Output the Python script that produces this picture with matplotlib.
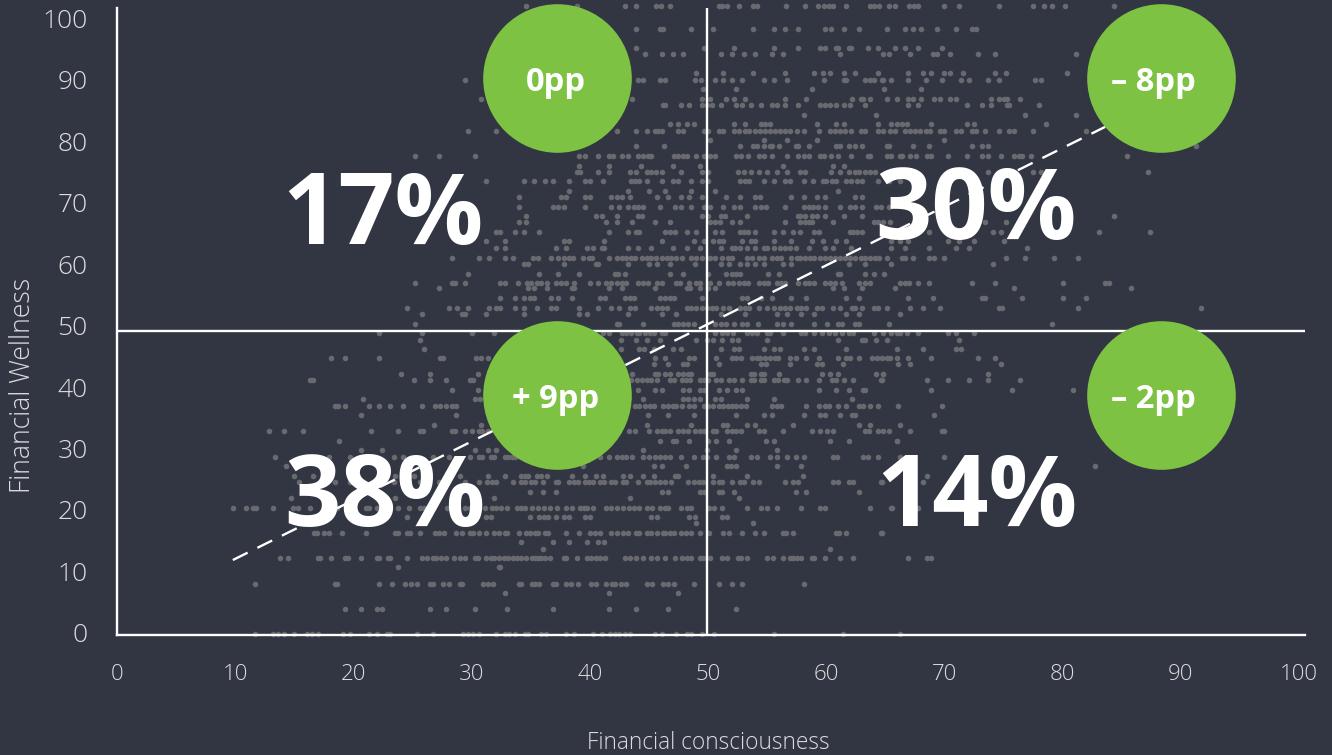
import matplotlib
matplotlib.use("Agg")
import matplotlib.pyplot as plt
from matplotlib.transforms import ScaledTranslation

BG = "#323642"
DOT = "#686a70"
GREEN = "#7dc242"
LIGHT = "#dcdde0"

# scatter, read row by row: wellness value -> consciousness values
row_y = [0, 4.1, 6.7, 8.2, 10.9, 12.3, 13.9, 15, 16.5, 18, 19.1, 20.6, 22.1, 23.2, 24.8, 25.8, 27.4, 28.9, 30, 31.5,
         33, 34.1, 35.6, 37.1, 38.2, 39.7, 41.3, 42.3, 43.9, 44.9, 46.4, 47.9, 49, 50.5, 52.1, 53.1, 54.7, 56.3, 57.2, 58.7,
         60.3, 61.3, 62.9, 64, 65.5, 67.1, 68.1, 69.6, 71.1, 72.2, 73.7, 75.2, 76.3, 77.8, 79.4, 80.5, 82, 83.1, 84.6, 86.1,
         87.2, 88.7, 90.2, 91.3, 94.4, 95.4, 98.5, 102.2]
row_x = [
    [11.7, 13.2, 13.6, 14.1, 15, 16.1, 16.5, 17, 19.1, 19.7, 21.3, 22, 22.8, 23.1, 25.4, 26.7, 29.3, 29.7, 30.1, 30.6, 32.1, 32.8, 33.2, 33.7, 34.5, 34.8, 35.9, 36.3, 38, 38.7, 40.3, 41, 41.7, 42.1, 42.5, 43, 43.4, 45.5, 46.1, 47.3, 48.2, 48.6, 49.5, 50.5, 55.6, 61.4, 66.2],
    [19.3, 20.6, 22, 22.4, 26.5, 27.8, 30.3, 33, 36.9, 41.6, 43.9, 46.6, 52.4],
    [32.8, 41.6, 47.5],
    [11.7, 18.4, 18.6, 22.2, 23.3, 24.4, 24.9, 25.4, 26.5, 26.7, 27.6, 28.1, 29, 29.2, 31, 31.4, 31.8, 34, 34.2, 35.1, 35.4, 35.7, 36.9, 37.1, 38, 38.4, 39, 40.1, 40.5, 41.4, 41.9, 42.1, 42.6, 43.1, 44.8, 45.3, 46.2, 46.6, 47.1, 48.8, 50.9, 52, 52.9, 58.1],
    [23.8, 32.3, 32.4],
    [13.8, 14.5, 17, 17.2, 18.1, 19.3, 19.5, 20.6, 22, 22.2, 22.9, 23.1, 24.5, 25.8, 26.2, 26.7, 27, 27.4, 27.8, 28.5, 29, 29.4, 30.3, 30.5, 31.2, 31.6, 31.9, 32.3, 32.7, 33.1, 33.5, 33.8, 34.2, 34.6, 35.1, 35.4, 35.6, 35.9, 36.2, 36.6, 37.8, 38, 38.9, 39.8, 40.1, 40.5, 40.9, 41.3, 43, 43.4, 43.9, 44.5, 45.2, 45.7, 46.4, 47.2, 47.8, 48.2, 48.6, 49.3, 49.6, 50.2, 51.2, 51.6, 52.5, 52.8, 53.3, 55, 55.5, 56.3, 56.9, 57.2, 57.5, 57.9, 58.8, 59, 59.9, 61.2, 62.3, 66.9, 68.5, 68.9],
    [36, 60.3],
    [34.2, 36.9, 38.2, 39.8, 40.7, 41.2],
    [16.7, 16.9, 17.5, 17.9, 19, 21.1, 23.5, 23.8, 24.5, 24.8, 25.6, 26.9, 27.2, 27.7, 28.7, 29.2, 29.9, 30.1, 30.6, 31.2, 31.9, 32.3, 32.8, 33, 34, 34.6, 34.9, 35.4, 35.6, 36.2, 36.5, 38, 39.1, 40, 40.4, 40.9, 41.8, 42.3, 42.8, 43.2, 43.9, 44.2, 44.8, 45.2, 45.7, 46.2, 46.4, 46.8, 47.1, 47.7, 48.1, 48.6, 49.3, 50.1, 51.3, 51.8, 52.9, 54, 54.7, 56.3, 56.6, 57.2, 60.8, 61.1, 61.7, 64.6, 64.7],
    [49, 53.8],
    [24.5, 31.2, 31.6, 34.9, 35.7, 36.1, 36.5, 37.1, 37.8, 38.2, 39.6, 40, 45.2, 45.7, 48.4, 48.9, 51.2, 51.6],
    [9.8, 10.9, 11.5, 11.8, 13.2, 14.9, 15.3, 16.3, 18.6, 21.1, 21.3, 22, 23.8, 24.7, 25.6, 26, 27.9, 28.2, 29.4, 29.9, 31.1, 31.7, 32.1, 32.5, 33, 33.8, 34.2, 34.5, 35.1, 35.6, 36.1, 36.6, 37.2, 38, 38.5, 39.2, 39.5, 39.8, 40.3, 41.4, 41.8, 42.3, 42.8, 43.3, 43.7, 44.2, 44.8, 45.3, 45.9, 46.4, 46.6, 47.7, 48.2, 48.6, 50.1, 50.5, 51.2, 53.3, 54.5, 55, 55.8, 57.9, 59.5, 59.9, 63.7, 65.5, 65.6, 67.8],
    [14.7, 23.5, 31.9, 43.4, 52.6],
    [34.9, 36, 37.1, 46.1, 46.6, 49.3, 49.7, 50.9, 51.2, 52.2, 57.4, 58.3, 62.8],
    [15.4, 18.4, 19.7, 23.4, 25.6, 27.2, 29.4, 30.6, 31.3, 31.7, 32.1, 33.5, 34.2, 34.5, 35, 35.4, 36, 37.1, 37.3, 38.2, 38.7, 39, 39.6, 39.9, 40.3, 40.9, 41.2, 41.8, 42.1, 42.8, 43.1, 44.1, 44.8, 45.1, 45.5, 45.9, 46.4, 46.9, 48.3, 48.8, 49.2, 49.6, 50.4, 50.9, 51.2, 52, 52.7, 53, 53.8, 54.3, 56.5, 57.2, 57.6, 60.6, 61, 61.9, 62.3, 64.6, 64.7, 68.2],
    [15, 16.6, 23.5, 25.1, 29, 31.4, 32.8, 34.2, 34.5, 34.8, 35.5, 35.9, 36.4, 38.5, 39.6, 40.5, 41.1, 42.8, 43.4, 44.5, 45.4, 47.2, 47.5, 50.4, 53.3, 58, 68.5],
    [14.3, 39.4, 45.4, 46.1, 48.1, 51.6, 51.9, 52.4, 55.8, 57.9, 82.7],
    [13.4, 17.9, 19.7, 23.4, 24.2, 26.7, 28.1, 29.9, 30.6, 30.9, 31.6, 31.9, 32.8, 33.1, 33.4, 33.7, 40.9, 41.6, 42.3, 42.7, 43.1, 43.6, 44.5, 45, 45.5, 45.9, 46.4, 46.8, 47.7, 48.8, 49.6, 49.9, 50.7, 51.8, 52.2, 53.6, 54.1, 55.2, 55.8, 56.7, 57.4, 58.1, 60.6, 60.9, 63.1, 63.5, 64.4, 66.2, 70],
    [20.6, 22.4, 30.3, 31.4, 32.1, 44.5, 49.9, 52.4, 55.8],
    [18.8, 45.9, 47, 47.3, 48.4, 50, 50.7, 51.8, 54.9, 55.6, 60.3, 61.9, 66, 66],
    [12.9, 14.1, 15.7, 21.5, 23.8, 25.6, 25.9, 28.3, 28.6, 29.4, 30, 30.6, 30.9, 31.4, 43.3, 43.8, 45, 45.7, 46.1, 46.4, 46.8, 47.5, 47.9, 48.3, 48.9, 49.3, 49.7, 50.4, 50.7, 51.6, 52, 52.4, 52.8, 54.3, 54.7, 56.3, 58.8, 59.5, 60.1, 60.6, 63.3, 63.6, 64.4, 64.8, 65.3, 67.1, 69.8, 70],
    [26.8, 30.8, 44.8, 48.6, 51.3, 51.6, 53.3, 54, 57.2, 62.8, 63.7, 66.2],
    [20.6, 28.7, 44.9, 46.6, 48.8, 52.4, 54.7, 55.4, 58.1, 59.5, 59.9, 61.2, 62.2, 62.4, 69.1],
    [18.4, 18.7, 19.3, 21.3, 22.2, 23.1, 24.2, 25.8, 26.9, 27.3, 27.8, 28.3, 28.7, 43.8, 44.2, 44.7, 45.1, 45.4, 46.2, 46.6, 47, 47.3, 47.8, 48.4, 48.8, 49.7, 50, 50.4, 50.9, 51.3, 51.7, 52, 52.4, 52.8, 53.2, 55.4, 55.8, 56.2, 58.3, 59.4, 59.9, 60.2, 61, 61.7, 62.8, 63.1, 63.7, 64.4, 66.1, 69.8],
    [20.8, 30.3, 30.7, 44.5, 47.9, 48.3, 48.8, 49.3, 50.6, 51.1, 53.3, 55.6, 62.2],
    [28.3, 30.5, 44.1, 45.5, 46.1, 47.9, 48.4, 49.3, 49.7, 50.9, 51.6, 52.4, 52.9, 59.4, 60.8, 61.9, 63.1, 63.3, 68.9, 75.7, 80.9],
    [16.3, 16.6, 25.1, 26.5, 27.8, 29.9, 30.1, 43.5, 44, 44.4, 44.8, 45.2, 45.7, 46.8, 47.1, 47.8, 48.1, 48.5, 49.3, 49.7, 50, 50.7, 51.1, 51.8, 52.2, 52.9, 53.6, 53.9, 54.5, 54.7, 55.6, 55.9, 56.4, 56.7, 57.6, 58.3, 59.4, 60.5, 60.8, 61.5, 62.3, 64.6, 64.7, 68.5, 70.3, 72.1, 73.7, 76.4],
    [24, 26.5, 30.5, 43.6, 45.5, 45.8, 46.4, 46.8, 47.5, 47.9, 48.3, 48.6, 50.2, 50.4, 53.6, 53.9, 54.5, 54.7, 56, 59.6, 60.3, 61, 64.2, 64.8, 64.8, 73.7],
    [45.4, 46.6, 47.9, 48.2, 50.9, 54.5, 54.9, 56.9, 59.2, 59.6, 61.4, 66.1, 67.1, 74.8],
    [18.1, 19.3, 22.2, 27.3, 27.6, 30.4, 30.8, 31.4, 45.5, 46.4, 48.4, 48.8, 50.7, 52, 52.4, 52.8, 53.7, 54.1, 54.4, 54.8, 55.2, 55.7, 55.9, 56.9, 57.4, 58.3, 59.4, 61, 61.7, 62, 62.8, 63.9, 64.3, 64.7, 65.1, 65.4, 66, 66.9, 68.9, 72.8, 74.3],
    [26, 42.6, 44.2, 44.6, 45.4, 47, 47.7, 51.1, 52.2, 52.6, 54.7, 55.6, 56.1, 58.1, 59, 61.7, 66, 68.2, 71, 71.4],
    [25.6, 41.1, 42.6, 43.9, 44.8, 45.9, 49, 49.9, 50.4, 51.2, 52, 52.5, 55, 61, 63, 63.3, 64.2, 65.1, 71.2],
    [22.2, 25.8, 30, 31.9, 41.1, 41.6, 42.7, 43.1, 43.5, 44, 44.2, 44.7, 45.1, 45.4, 46.1, 46.4, 50.6, 51.2, 51.6, 52.1, 53.3, 53.7, 54.1, 55, 55.2, 56.3, 57.9, 58.2, 59, 59.6, 60.2, 60.7, 61.3, 61.9, 62.3, 64, 64.8, 65.5, 65.96, 66.2, 66.8, 67.8, 70.3, 71, 72.5],
    [25.2, 42.3, 42.5, 44.5, 47.1, 47.5, 47.9, 48.3, 48.8, 50.6, 51.1, 51.5, 52.2, 52.9, 53.3, 54.2, 55.8, 56.3, 57, 59, 60.1, 61, 61.3, 62.4, 62.8, 65.3, 79.1],
    [25.8, 29.2, 29.4, 31.2, 34.4, 39.1, 39.8, 43.2, 46.1, 47.3, 51.1, 53.1, 55.8, 56.7, 57.9, 59, 61.7, 62.8, 66.2],
    [24.5, 28.1, 28.8, 29.7, 31.5, 32.1, 32.4, 33.7, 34.4, 35.5, 36.7, 37.1, 39.1, 40.7, 41.8, 42.5, 43.4, 43.8, 45.2, 45.7, 46.1, 46.5, 48.2, 48.6, 49, 49.5, 49.9, 50.3, 50.7, 51.3, 51.8, 52.7, 53.1, 53.5, 54.3, 55, 55.6, 56.1, 56.5, 56.9, 57.5, 57.9, 58.3, 59.2, 59.6, 60.6, 61.2, 62.2, 62.4, 63, 64, 64.4, 65.1, 67.1, 68.2, 69.6, 74.6, 74.9, 81.3, 91.7],
    [32.4, 33.7, 34.4, 34.9, 35.3, 36.7, 37.3, 38.5, 40.9, 41.3, 43, 43.4, 43.7, 45.9, 46.4, 46.8, 47.1, 49.5, 52.9, 53.3, 54.5, 55.4, 57, 58.3, 61.7, 62.8, 66.9, 69, 73.2, 73.4, 76.6, 80, 82],
    [27.2, 34.8, 35.3, 36.4, 38.5, 38.7, 41.6, 42.7, 45.5, 48.2, 48.5, 49.3, 50, 50.6, 60.6, 61.5, 63, 65.8, 75.9, 85.8],
    [25.2, 28.3, 28.6, 29.4, 32.4, 32.8, 33.9, 34.7, 35, 35.5, 35.9, 36.4, 37.1, 37.6, 38, 38.7, 40, 40.7, 41.4, 41.8, 42.3, 42.7, 43.1, 44.1, 44.5, 44.9, 45.7, 46.1, 47.3, 47.6, 48.4, 49, 49.3, 50.2, 50.9, 51.7, 52.1, 52.6, 53, 53.4, 54.3, 54.7, 55.1, 55.8, 56.2, 56.5, 57.6, 58.2, 58.5, 59, 59.9, 60.3, 60.7, 61.3, 62.8, 63.3, 63.7, 66.2, 66.7, 67, 67.8, 68.7, 72.3, 74.3, 80, 83.6, 83.9],
    [29.7, 35.7, 37.3, 39.1, 42.1, 42.4, 43, 46.8, 47.9, 50, 51.5, 52, 52.4, 52.7, 55.1, 56, 61, 61.2, 63.3, 64, 64.9],
    [34.4, 34.8, 37.8, 40.5, 40.7, 43.2, 45, 45.7, 46.8, 48.9, 51.1, 51.8, 52.7, 53.3, 54, 54.7, 56.3, 57, 61.9, 63.3, 65.5, 74.1],
    [28.3, 30.6, 31.5, 32.8, 33.5, 35.2, 35.6, 36.7, 37.3, 37.8, 38.2, 38.6, 39.4, 39.9, 40.2, 41.6, 42.3, 42.7, 43.1, 43.5, 43.8, 44.4, 44.8, 45.2, 45.6, 46.1, 46.5, 46.9, 47.3, 47.8, 48.6, 49, 49.5, 50.2, 50.6, 51.2, 51.7, 52, 53.3, 53.7, 54.3, 54.7, 55.4, 55.8, 56.2, 57, 57.5, 57.8, 58.2, 58.6, 59, 59.5, 59.9, 60.3, 60.7, 61.2, 61.6, 62, 62.4, 62.9, 63.3, 63.7, 64.1, 64.5, 65.1, 66.4, 66.7, 67.3, 68.7, 69.1, 70, 75.2, 76.8, 79.3, 81.3],
    [32.1, 32.8, 37.1, 38, 39.8, 40.3, 41, 41.2, 43.2, 44.1, 45.2, 47, 48.2, 49.3, 51.1, 52, 52.3, 52.7, 53.3, 54, 54.7, 55, 55.6, 56.1, 56.5, 56.9, 57.4, 58.5, 59.9, 60.6, 62.1, 65.5, 66.7, 68.7, 71, 72.1, 77],
    [31.2, 32.8, 37.8, 38.2, 41.2, 46.1, 48.8, 49.7, 50.4, 50.9, 51.3, 52.9, 53.6, 54, 55.6, 57, 58.8, 59.7, 60.8, 61.7, 65.5, 66.2, 66.9, 70.3, 71.2, 72.5, 75],
    [32.1, 32.4, 33.7, 34.4, 35.7, 41.6, 43.2, 43.9, 44.2, 46.4, 46.8, 47.2, 48.2, 49, 50.6, 51.2, 52.7, 53, 53.4, 54, 55.6, 56.3, 57.2, 57.8, 59, 59.4, 62, 62.3, 62.6, 63, 68.7, 74.1, 74.8, 83.1, 87.4],
    [34, 34.6, 41.4, 42.3, 43.6, 45.5, 46.8, 50.2, 50.6, 51, 52, 52.7, 56.5, 57.8, 58.2, 58.5, 58.8, 60.6, 64, 64.4, 64.8, 65.4, 73.4, 75.2],
    [34.6, 40.5, 41, 42.3, 44.1, 44.4, 49.5, 50, 51.1, 51.4, 53.3, 57.6, 57.8, 58.2, 58.8, 59.2, 59.9, 61.5, 63, 84.3],
    [34, 36.9, 37.3, 37.8, 39.6, 41.8, 42.5, 43.2, 43.7, 44.1, 44.5, 45.9, 47.2, 47.7, 48.6, 49.7, 50.2, 51.3, 52.2, 52.7, 54, 54.5, 54.9, 56.5, 58.1, 58.5, 58.9, 59.3, 59.9, 61.2, 62, 62.4, 63, 64.2, 64.6, 65.3],
    [34, 37.6, 38, 39.6, 40, 41.8, 42.3, 42.7, 43.4, 45.7, 46.6, 47.7, 48.4, 49.5, 51.5, 52.7, 54, 54.4, 57, 58.1, 59.2, 59.9, 62.4, 63],
    [38.2, 43.2, 45, 46.4, 48.6, 50.6, 61],
    [31.2, 34.4, 35.3, 36.2, 36.9, 38.2, 39.6, 40, 41.1, 43.5, 43.8, 44.2, 44.8, 46.1, 47, 47.5, 48.6, 49.5, 50, 52.7, 53.1, 53.5, 54.7, 55.6, 56.5, 56.9, 58.1, 58.9, 59.7, 60, 60.5, 60.8, 61.7, 62.1, 62.6, 63, 64.4, 65.3, 66.2],
    [38.9, 39.2, 40.7, 41.6, 43.4, 43.9, 44.8, 45.2, 45.6, 46.1, 47.7, 49.5, 50, 52.5, 53, 53.6, 54.3, 55, 55.8, 56.7, 57.8, 58.2, 60.4, 61.2, 61.9, 62.4, 62.8, 63.3, 63.7, 64.1, 73.7, 77.5, 78.2, 87.2],
    [39.1, 41.6, 44.3, 47, 49.3, 56.3, 60.6, 61.5],
    [25.2, 27.2, 30.3, 39.1, 39.6, 40.7, 41.6, 42, 42.7, 43.2, 44.1, 44.5, 44.9, 45.2, 47.1, 47.5, 47.9, 48.2, 49, 49.7, 50.2, 50.6, 52.4, 52.8, 53.4, 54.3, 54.7, 55.4, 56.7, 57.6, 58.1, 58.5, 59.5, 59.8, 60.4, 61, 62.1, 63.5, 63.7, 65.1, 65.5, 66.2, 66.4, 67.1, 67.6, 68.5, 68.9, 70.3, 71.9, 73.2, 73.7, 74.8, 75.9, 76.3, 76.6, 77.3, 85.4],
    [43.9, 46.3, 52.7, 53.8, 54.1, 54.7, 55.2, 55.4, 56, 57.4, 57.6, 58.5, 60.8, 61.2, 61.9, 62.4, 63, 65.1, 65.3, 67.3, 68.7, 72.3, 73.2, 73.7, 91.3],
    [50.2, 54.7, 56.7, 59.2, 70],
    [29.7, 32.1, 42.3, 43.9, 44.8, 45.5, 45.8, 46.1, 47.5, 47.9, 49.7, 50, 50.9, 51.3, 52.2, 52.6, 53.1, 53.5, 54, 54.4, 54.8, 55.2, 55.7, 56.1, 56.5, 56.9, 57.5, 58.1, 59.4, 60.3, 60.7, 61.2, 61.6, 62.1, 62.9, 63.3, 64.4, 64.8, 65.4, 65.8, 66.7, 67.1, 67.5, 67.9, 68.4, 68.8, 69.6, 70, 71, 71.4, 72.3, 72.7, 73.4, 74.6, 75.5, 75.9, 77.5, 82],
    [46.8, 47.5, 48.2, 48.8, 52.2, 53.1, 54.5, 54.8, 55.2, 59.2, 60.8, 61.5, 64.4, 65.5, 66, 66.4, 66.8, 68.9, 71.9, 72.5, 78.6],
    [58.1, 64.2, 76.8, 81.1],
    [46.2, 46.4, 47.7, 48.4, 49.5, 49.9, 50.3, 51.1, 52.4, 52.9, 53.6, 54.5, 55.4, 55.8, 56.5, 57.6, 59.5, 59.9, 60.3, 60.8, 61.5, 62, 63.3, 66.9, 67.8, 71.9, 73.2, 73.9, 75.3, 75.5, 78],
    [30.8, 43.6, 49.5, 50.2, 51.5, 52.2, 53.1, 56.5, 58.3, 62.2, 62.9, 63.1, 63.7, 65.1, 66, 66.9, 67.3, 68, 69.1, 69.6, 70.5, 71, 73.9, 74.6, 75, 75.3, 76.4],
    [49.6, 52.4, 58.8, 64.9, 68],
    [29.4, 44.1, 44.5, 45.9, 46.4, 48.9, 49.4, 50.6, 51.3, 52, 52.9, 54.7, 55.6, 56.7, 59.8, 61.5, 61.7, 63.3, 63.7, 64, 64.7, 64.8, 65.5, 66.9, 68.4, 69.8, 71.4, 72.1, 73.7, 74.6, 77.7, 78.2],
    [49, 51.3, 53.8, 56.5, 59, 59.7, 60.3, 61.5, 62.4, 64.4, 66.9, 68.2, 68.9, 70, 70.5, 71.6, 74.3, 75.2, 80.4],
    [44.7, 46.1, 47, 47.9, 51.1, 52, 53, 54, 55.4, 56.3, 61.2, 64.8, 65.3, 67.1, 69, 69.4, 70.5, 72.8, 74.3, 81.1],
    [43.9, 49.7, 52.2, 55.6, 57.6, 59.5, 59.9, 60.8, 61, 61.9, 62.1, 63.5, 64.4, 65.8, 66.7, 67.8, 69.8],
    [43.9, 45.9, 46.2, 48.6, 50.4, 53.8, 55.6, 56.5, 57.6, 59.9, 60.4, 61.5, 62.8, 65.1, 66.7, 67.3, 68, 69.4, 71, 72.3, 72.7],
    [34.6, 38.9, 43, 43.9, 45.6, 46, 46.8, 50.9, 51.2, 51.6, 52.6, 53.8, 54.1, 56.6, 58.2, 59.3, 59.8, 60.2, 60.6, 61.7, 63.7, 64, 64.5, 65.3, 65.8, 67, 67.4, 67.8, 70, 71.2, 74.6, 77.5, 78.4, 79.1, 80.2, 84.3],
]

x_ticks = [0, 10, 20, 30, 40, 50, 60, 70, 80, 90, 100]
y_ticks = [0, 10, 20, 30, 40, 50, 60, 70, 80, 90, 100]

x_split = 49.95
y_split = 49.35
trend_x = [9.8, 83.6]
trend_y = [12.05, 82.6]

quadrant_x = [22.5, 72.65, 22.7, 72.75]
quadrant_y = [67.7, 68.5, 21.7, 21.7]
quadrant_labels = ["17%", "30%", "38%", "14%"]

change_x = [37.2, 88.3, 37.2, 88.3]
change_y = [90.5, 90.5, 38.9, 38.9]
change_label_x = [37.1, 87.7, 37.1, 87.7]
change_label_y = [89.85, 89.85, 38.25, 38.25]
change_labels = ["0pp", "\u2013 8pp", "+ 9pp", "\u2013 2pp"]

plt.rcParams["font.family"] = ["Open Sans", "DejaVu Sans"]

fig = plt.figure(figsize=(13.32, 7.55), dpi=100, facecolor=BG)
ax = fig.add_axes([117 / 1332, 1 - 635 / 755, (1305 - 117) / 1332, (635 - 8) / 755], facecolor=BG)
ax.set_xlim(0, 100.5)
ax.set_ylim(-0.16, 101.95)

for y, xs in zip(row_y, row_x):
    ax.scatter(xs, [y] * len(xs), s=16, color=DOT, linewidths=0, clip_on=False, zorder=1)

ax.axvline(x_split, color="white", lw=1.7, zorder=2)
ax.axhline(y_split, color="white", lw=1.7, zorder=2)
ax.plot(trend_x, trend_y, color="white", lw=1.7, dashes=(7, 4.6), zorder=2)

ax.scatter(change_x, change_y, s=11450, color=GREEN, linewidths=0, clip_on=False, zorder=3)
for x, y, label in zip(change_label_x, change_label_y, change_labels):
    ax.text(x, y, label, color="white", fontsize=23.6, fontweight="bold", ha="center", va="center", zorder=4)
for x, y, label in zip(quadrant_x, quadrant_y, quadrant_labels):
    ax.text(x, y, label, color="white", fontsize=71, fontweight="bold", ha="center", va="center", zorder=5)

for side in ["top", "right"]:
    ax.spines[side].set_visible(False)
for side in ["left", "bottom"]:
    ax.spines[side].set_color("white")
    ax.spines[side].set_linewidth(1.7)
ax.set_xticks(x_ticks)
ax.set_yticks(y_ticks)
ax.tick_params(axis="x", length=0, pad=21, labelsize=16, labelcolor=LIGHT)
ax.tick_params(axis="y", length=0, pad=21, labelsize=19, labelcolor=LIGHT)

# tick labels sit a little above their grid value in the original
up = ScaledTranslation(0, 1 / 72, fig.dpi_scale_trans)
for label in ax.get_xticklabels() + ax.get_yticklabels():
    label.set_fontweight(300)
for label in ax.get_yticklabels():
    label.set_transform(label.get_transform() + up)

fig.text(708 / 1332, 1 - 743 / 755, "Financial consciousness", color=LIGHT, fontsize=16.3, fontweight=300, ha="center", va="center")
fig.text(23 / 1332, 1 - 385 / 755, "Financial Wellness", color=LIGHT, fontsize=19.1, fontweight=300, rotation=90, ha="center", va="center")

fig.savefig("out.png", dpi=100, facecolor=BG)
